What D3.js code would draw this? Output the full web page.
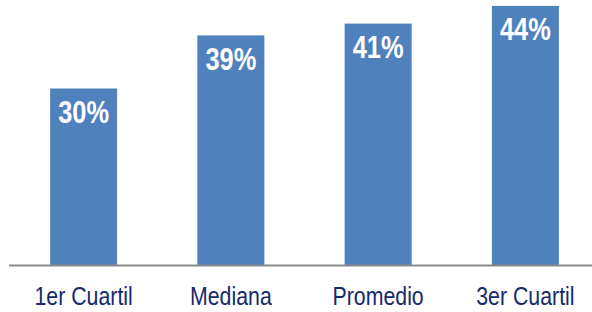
<!DOCTYPE html>
<html>
<head>
<meta charset="utf-8">
<script src="https://cdn.jsdelivr.net/npm/d3@7"></script>
<style>
  body { margin: 0; background: #fff; }
  svg { display: block; }
</style>
</head>
<body>
<div id="chart"></div>
<script>
// chart data
var categories = ["1er Cuartil", "Mediana", "Promedio", "3er Cuartil"];
var values = [30, 39, 41, 44];
var valueLabels = ["30%", "39%", "41%", "44%"];

var width = 592, height = 312;
var baseline = 265.5;
var narrow = 0.82; // no Arial Narrow installed, squeeze Liberation Sans instead

var svg = d3.select("#chart")
  .append("svg")
  .attr("width", width)
  .attr("height", height);

// x scale, one band per category
var x = d3.scaleBand()
  .domain(categories)
  .range([10, 599])
  .paddingInner(0.545)
  .paddingOuter(0.2725);

// y scale in percent
var y = d3.scaleLinear()
  .domain([0, 45])
  .range([baseline, 0]);

// bars
svg.selectAll(".bar")
  .data(values)
  .enter()
  .append("rect")
  .attr("class", "bar")
  .attr("x", function(d, i) { return x(categories[i]); })
  .attr("y", function(d) { return y(d); })
  .attr("width", x.bandwidth())
  .attr("height", function(d) { return baseline - y(d); })
  .style("fill", "#4f81bd");

// value labels inside bars
svg.selectAll(".val")
  .data(values)
  .enter()
  .append("text")
  .attr("class", "val")
  .attr("transform", function(d, i) {
    var cx = x(categories[i]) + x.bandwidth() / 2;
    return "translate(" + cx + "," + (y(d) + 34.5) + ") scale(" + narrow + ",1)";
  })
  .attr("text-anchor", "middle")
  .style("font-family", "'Liberation Sans', Arial, sans-serif")
  .style("font-weight", "bold")
  .style("font-size", "31px")
  .style("fill", "#fff")
  .text(function(d, i) { return valueLabels[i]; });

// x axis line
var axis = svg.append("g")
  .attr("transform", "translate(0," + baseline + ")")
  .call(d3.axisBottom(x).tickSize(0).tickPadding(0));

axis.select(".domain")
  .attr("d", "M9,0H592")
  .attr("stroke", "#898989")
  .attr("stroke-width", 2);

axis.selectAll(".tick text")
  .attr("y", 40)
  .attr("dy", 0)
  .attr("transform", "scale(" + narrow + ",1)")
  .style("font-family", "'Liberation Sans', Arial, sans-serif")
  .style("font-size", "26px")
  .style("fill", "#16296b");
</script>
</body>
</html>
